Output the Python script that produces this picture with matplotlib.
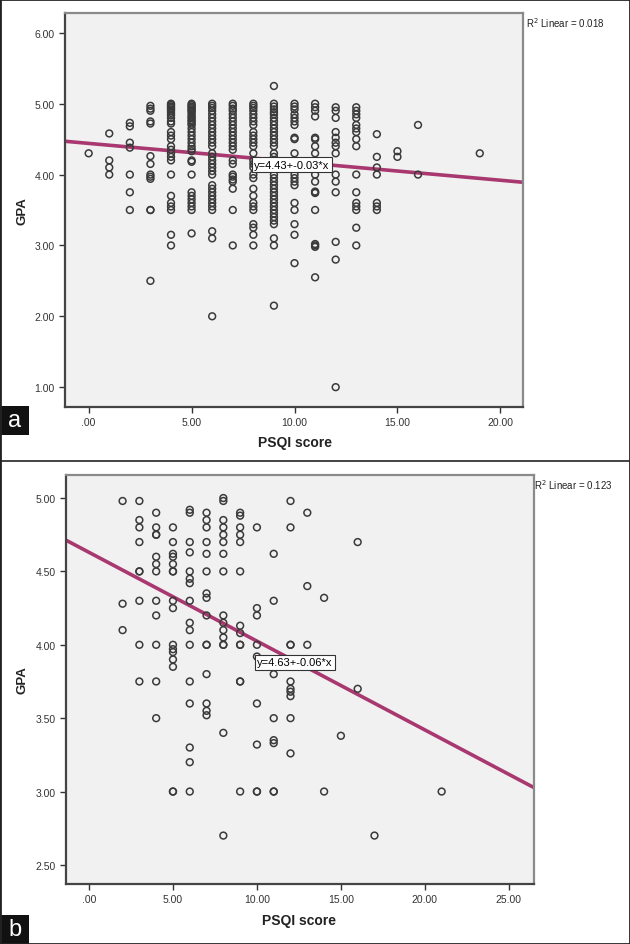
import numpy as np
import matplotlib
matplotlib.use("Agg")
import matplotlib.pyplot as plt
from matplotlib.patches import Rectangle
from matplotlib.lines import Line2D

plt.rcParams['font.family'] = ['Liberation Sans', 'DejaVu Sans']

a_scores = [0, 1, 2, 3, 4, 5, 6, 7, 8, 9, 10, 11, 12, 13, 14, 15, 16, 19]
a_gpa = [
    [4.30],
    [4.58, 4.20, 4.10, 4.00],
    [4.73, 4.68, 4.45, 4.38, 4.00, 3.75, 3.50],
    [4.97, 4.93, 4.90, 4.75, 4.72, 4.26, 4.15, 4.00, 3.97, 3.94, 3.50, 3.50, 2.50],
    [5.00, 4.98, 4.96, 4.94, 4.92, 4.90, 4.87, 4.84, 4.80, 4.75, 4.72, 4.60, 4.55,
     4.50, 4.40, 4.35, 4.30, 4.25, 4.20, 4.00, 3.70, 3.60, 3.55, 3.50, 3.15, 3.00],
    [5.00, 4.98, 4.96, 4.94, 4.92, 4.90, 4.88, 4.85, 4.82, 4.80, 4.77, 4.75, 4.72,
     4.70, 4.65, 4.60, 4.55, 4.50, 4.45, 4.40, 4.36, 4.33, 4.20, 4.18, 4.00, 3.75,
     3.70, 3.65, 3.60, 3.55, 3.50, 3.17],
    [5.00, 4.97, 4.94, 4.90, 4.85, 4.80, 4.75, 4.70, 4.65, 4.60, 4.55, 4.50, 4.45,
     4.40, 4.30, 4.25, 4.20, 4.15, 4.10, 4.05, 4.00, 3.85, 3.80, 3.75, 3.70, 3.65,
     3.60, 3.55, 3.50, 3.20, 3.10, 2.00],
    [5.00, 4.97, 4.93, 4.90, 4.85, 4.80, 4.75, 4.70, 4.65, 4.60, 4.55, 4.50, 4.45,
     4.40, 4.35, 4.20, 4.15, 4.00, 3.97, 3.93, 3.90, 3.80, 3.50, 3.00],
    [5.00, 4.97, 4.94, 4.90, 4.85, 4.80, 4.75, 4.70, 4.60, 4.55, 4.50, 4.45, 4.40,
     4.30, 4.20, 4.15, 4.10, 4.00, 3.95, 3.80, 3.70, 3.60, 3.55, 3.50, 3.30, 3.25,
     3.15, 3.00],
    [5.25, 5.00, 4.96, 4.92, 4.88, 4.85, 4.80, 4.75, 4.70, 4.65, 4.60, 4.55, 4.50,
     4.45, 4.40, 4.30, 4.25, 4.15, 4.00, 3.95, 3.90, 3.85, 3.80, 3.75, 3.70, 3.65,
     3.60, 3.55, 3.50, 3.45, 3.40, 3.35, 3.30, 3.10, 3.00, 2.15],
    [5.00, 4.96, 4.92, 4.85, 4.80, 4.75, 4.70, 4.52, 4.50, 4.30, 4.00, 3.95, 3.90,
     3.85, 3.60, 3.50, 3.30, 3.15, 2.75],
    [5.00, 4.95, 4.90, 4.82, 4.52, 4.50, 4.40, 4.30, 4.00, 3.90, 3.76, 3.75, 3.74,
     3.50, 3.02, 3.00, 2.98, 2.55],
    [4.95, 4.90, 4.80, 4.60, 4.52, 4.45, 4.40, 4.30, 4.00, 3.90, 3.75, 3.05, 2.80, 1.00],
    [4.95, 4.90, 4.85, 4.80, 4.70, 4.65, 4.60, 4.50, 4.40, 4.00, 3.75, 3.60, 3.55,
     3.50, 3.25, 3.00],
    [4.57, 4.25, 4.10, 4.00, 3.60, 3.55, 3.50],
    [4.33, 4.25],
    [4.70, 4.00],
    [4.30],
]
a_fit = (4.44, -0.026)
a_eq = "y=4.43+-0.03*x"
a_r2 = "R$^2$ Linear = 0.018"

# panel b
b_scores = [2, 3, 4, 5, 6, 7, 8, 9, 10, 11, 12, 13, 14, 15, 16, 17, 21]
b_gpa = [
    [4.98, 4.28, 4.10],
    [4.98, 4.85, 4.80, 4.70, 4.50, 4.50, 4.30, 4.00, 3.75],
    [4.90, 4.80, 4.75, 4.75, 4.60, 4.55, 4.50, 4.30, 4.20, 4.00, 3.75, 3.50],
    [4.80, 4.70, 4.62, 4.60, 4.55, 4.50, 4.50, 4.30, 4.25, 4.00, 3.97, 3.95, 3.90,
     3.85, 3.00, 3.00],
    [4.92, 4.90, 4.70, 4.63, 4.50, 4.45, 4.42, 4.30, 4.15, 4.10, 4.00, 3.75, 3.60,
     3.30, 3.20, 3.00],
    [4.90, 4.85, 4.80, 4.70, 4.62, 4.50, 4.35, 4.32, 4.20, 4.00, 4.00, 3.80, 3.60,
     3.55, 3.52],
    [5.00, 4.98, 4.85, 4.80, 4.75, 4.70, 4.62, 4.50, 4.20, 4.15, 4.10, 4.05, 4.00,
     4.00, 3.40, 2.70],
    [4.90, 4.88, 4.80, 4.75, 4.70, 4.50, 4.13, 4.08, 4.00, 4.00, 3.75, 3.75, 3.00],
    [4.80, 4.25, 4.20, 4.00, 3.92, 3.60, 3.32, 3.00, 3.00],
    [4.62, 4.30, 3.80, 3.50, 3.35, 3.33, 3.00, 3.00],
    [4.98, 4.80, 4.00, 4.00, 3.75, 3.70, 3.68, 3.65, 3.50, 3.26],
    [4.90, 4.40, 4.00],
    [4.32, 3.00],
    [3.38],
    [4.70, 3.70],
    [2.70],
    [3.00],
]
b_fit = (4.63, -0.0605)
b_eq = "y=4.63+-0.06*x"
b_r2 = "R$^2$ Linear = 0.123"

LINE_COLOR = '#a8386f'
W, H = 630, 945


def fx(px):
    return px / W


def fy(py):
    return 1 - py / H


def flatten(scores, cols):
    xs, ys = [], []
    for s, col in zip(scores, cols):
        xs += [s] * len(col)
        ys += col
    return np.array(xs, float), np.array(ys, float)


def draw_panel(ax, scores, cols, fit, eq, eq_pos, xlim, ylim, xticks, yticks):
    ax.set_facecolor('#f1f1f1')
    x, y = flatten(scores, cols)
    ax.scatter(x, y, s=24, facecolors='none', edgecolors='#3a3a3a',
               linewidths=1.1, zorder=3)
    xx = np.array(xlim)
    ax.plot(xx, fit[0] + fit[1] * xx, color=LINE_COLOR, lw=2.6, zorder=2)
    ax.text(eq_pos[0], eq_pos[1], eq, fontsize=8, ha='left', va='center',
            zorder=5, bbox=dict(boxstyle='square,pad=0.2', fc='white', ec='#333', lw=0.8))
    ax.set_xlim(xlim)
    ax.set_ylim(ylim)
    ax.set_xticks(xticks)
    ax.set_yticks(yticks)
    ax.set_xticklabels([('%.2f' % t).lstrip('0') if t == 0 else '%.2f' % t for t in xticks])
    ax.set_yticklabels(['%.2f' % t for t in yticks])
    ax.tick_params(direction='out', length=4, width=1, colors='#333',
                   labelsize=7.5, labelcolor='#333')
    for side in ['left', 'bottom']:
        ax.spines[side].set_color('#444')
        ax.spines[side].set_linewidth(1.6)
    for side in ['top', 'right']:
        ax.spines[side].set_color('#8a8a8a')
        ax.spines[side].set_linewidth(1.6)


fig = plt.figure(figsize=(6.3, 9.45), dpi=100)

ax_a = fig.add_axes([fx(65), fy(408), fx(523 - 65), (408 - 14) / H])
draw_panel(ax_a, a_scores, a_gpa, a_fit, a_eq, (8.05, 4.14),
           (-1.15, 21.1), (0.72, 6.28), [0, 5, 10, 15, 20], [1, 2, 3, 4, 5, 6])

ax_b = fig.add_axes([fx(66), fy(885), fx(534 - 66), (885 - 476) / H])
draw_panel(ax_b, b_scores, b_gpa, b_fit, b_eq, (10.0, 3.88),
           (-1.37, 26.5), (2.37, 5.157), [0, 5, 10, 15, 20, 25],
           [2.5, 3.0, 3.5, 4.0, 4.5, 5.0])

# axis titles and R2 notes
fig.text(fx(22), fy(211), 'GPA', rotation=90, fontsize=9.5, fontweight='bold',
         ha='center', va='center', color='#222')
fig.text(fx(295), fy(443), 'PSQI score', fontsize=10, fontweight='bold',
         ha='center', va='center', color='#222')
fig.text(fx(526), fy(23), a_r2, fontsize=7, ha='left', va='center', color='#222')

fig.text(fx(22), fy(680), 'GPA', rotation=90, fontsize=9.5, fontweight='bold',
         ha='center', va='center', color='#222')
fig.text(fx(299), fy(921), 'PSQI score', fontsize=10, fontweight='bold',
         ha='center', va='center', color='#222')
fig.text(fx(534), fy(485), b_r2, fontsize=7, ha='left', va='center', color='#222')

# panel letters
for letter, top in [('a', 407), ('b', 916)]:
    fig.add_artist(Rectangle((0, fy(top + 29)), fx(29), 29 / H,
                             transform=fig.transFigure, fc='#111', ec='none'))
    fig.text(fx(14.5), fy(top + 14), letter, color='white', fontsize=17,
             ha='center', va='center')

# frame and separator
fig.add_artist(Rectangle((0, 0), 1, 1, transform=fig.transFigure,
                         fill=False, ec='#222', lw=2))
fig.add_artist(Line2D([0, 1], [fy(462), fy(462)], transform=fig.transFigure,
                      color='#222', lw=1.2))

fig.savefig('out.png', dpi=100)
